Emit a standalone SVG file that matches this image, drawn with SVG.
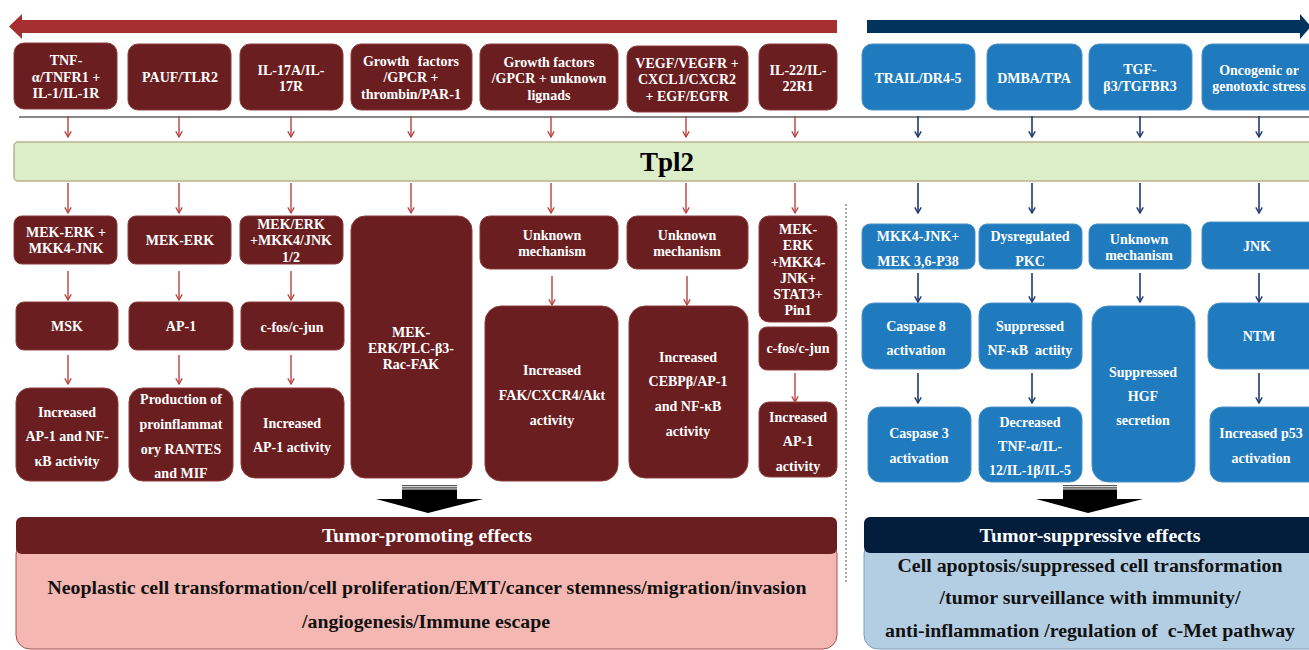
<svg xmlns="http://www.w3.org/2000/svg" width="1309" height="650" viewBox="0 0 1309 650">
<defs>
<style>
.rn{fill:#6B1E1F;stroke:#8E3B3B;stroke-width:1}
.bn{fill:#1F7BBE;stroke:#4A93C9;stroke-width:1}
.t{font-family:"Liberation Serif","Times New Roman",Times,serif;font-weight:bold;font-size:14px;fill:#FFFFFF;text-anchor:middle}
.h{font-family:"Liberation Serif","Times New Roman",Times,serif;font-weight:bold;font-size:19px;fill:#FFFFFF;text-anchor:middle}
.k{font-family:"Liberation Serif","Times New Roman",Times,serif;font-weight:bold;font-size:18px;fill:#111111;text-anchor:middle}
.rc{stroke:#B8403D;stroke-width:1.4;fill:none;marker-end:url(#ar)}
.bc{stroke:#1F3A6E;stroke-width:1.6;fill:none;marker-end:url(#ab)}
</style>
<marker id="ar" viewBox="0 0 10 10" refX="9" refY="5" markerWidth="8" markerHeight="8" markerUnits="userSpaceOnUse" orient="auto">
<path d="M2,1 L9,5 L2,9" fill="none" stroke="#B8403D" stroke-width="1.6"/>
</marker>
<marker id="ab" viewBox="0 0 10 10" refX="9" refY="5" markerWidth="8" markerHeight="8" markerUnits="userSpaceOnUse" orient="auto">
<path d="M2,1 L9,5 L2,9" fill="none" stroke="#1F3A6E" stroke-width="1.8"/>
</marker>
</defs>
<rect width="1309" height="650" fill="#FFFFFF"/>

<g id="arrow-promote">
<polygon points="9,26.5 22,14 22,20 837,20 837,33 22,33 22,39" fill="#A5302F"/>
</g>
<g id="arrow-suppress">
<polygon points="867,20 1300,20 1300,14 1311,26.5 1300,39 1300,33 867,33" fill="#00345C"/>
</g>

<line x1="19" y1="117" x2="1309" y2="117" stroke="#888888" stroke-width="2"/>
<line x1="846" y1="204" x2="846" y2="582" stroke="#555555" stroke-width="1" stroke-dasharray="2,2"/>

<g id="tpl2">
<rect x="14" y="142" width="1310" height="39" rx="4" fill="#DCEEC8" stroke="#B9B290" stroke-width="1.5"/>
<text x="667" y="171" font-family="Liberation Serif, Times New Roman, Times, serif" font-weight="bold" font-size="27" fill="#000000" text-anchor="middle">Tpl2</text>
</g>

<g id="n-tnf"><rect class="rn" x="14" y="43" width="103" height="66" rx="10"/>
<text class="t" x="66" y="65">TNF-</text><text class="t" x="66" y="82">α/TNFR1 +</text><text class="t" x="66" y="98">IL-1/IL-1R</text></g>
<g id="n-pauf"><rect class="rn" x="128" y="44" width="103" height="66" rx="10"/>
<text class="t" x="180" y="82">PAUF/TLR2</text></g>
<g id="n-il17"><rect class="rn" x="240" y="44" width="103" height="66" rx="10"/>
<text class="t" x="291" y="75">IL-17A/IL-</text><text class="t" x="291" y="91">17R</text></g>
<g id="n-gf1"><rect class="rn" x="351" y="44" width="121" height="66" rx="10"/>
<text class="t" x="411" y="66" word-spacing="5">Growth factors</text><text class="t" x="411" y="82">/GPCR +</text><text class="t" x="411" y="99">thrombin/PAR-1</text></g>
<g id="n-gf2"><rect class="rn" x="480" y="44" width="138" height="66" rx="10"/>
<text class="t" x="549" y="67">Growth factors</text><text class="t" x="549" y="83">/GPCR + unknown</text><text class="t" x="549" y="100">lignads</text></g>
<g id="n-vegf"><rect class="rn" x="627" y="46" width="121" height="66" rx="10"/>
<text class="t" x="687" y="68">VEGF/VEGFR +</text><text class="t" x="687" y="84">CXCL1/CXCR2</text><text class="t" x="687" y="101">+ EGF/EGFR</text></g>
<g id="n-il22"><rect class="rn" x="759" y="44" width="78" height="66" rx="10"/>
<text class="t" x="798" y="75">IL-22/IL-</text><text class="t" x="798" y="91">22R1</text></g>

<g id="n-trail"><rect class="bn" x="862" y="44" width="113" height="66" rx="10"/>
<text class="t" x="918" y="83">TRAIL/DR4-5</text></g>
<g id="n-dmba"><rect class="bn" x="987" y="44" width="95" height="66" rx="10"/>
<text class="t" x="1034" y="83">DMBA/TPA</text></g>
<g id="n-tgf"><rect class="bn" x="1089" y="44" width="103" height="66" rx="10"/>
<text class="t" x="1140" y="74">TGF-</text><text class="t" x="1140" y="91">β3/TGFBR3</text></g>
<g id="n-onco"><rect class="bn" x="1202" y="44" width="120" height="66" rx="10"/>
<text class="t" x="1259" y="75">Oncogenic or</text><text class="t" x="1259" y="91">genotoxic stress</text></g>

<g id="a1"><rect class="rn" x="14" y="216" width="103" height="48" rx="8"/>
<text class="t" x="66" y="237">MEK-ERK +</text><text class="t" x="66" y="253">MKK4-JNK</text></g>
<g id="a2"><rect class="rn" x="128" y="216" width="103" height="48" rx="8"/>
<text class="t" x="180" y="245">MEK-ERK</text></g>
<g id="a3"><rect class="rn" x="240" y="216" width="103" height="48" rx="8"/>
<text class="t" x="291" y="229">MEK/ERK</text><text class="t" x="291" y="245">+MKK4/JNK</text><text class="t" x="291" y="262">1/2</text></g>
<g id="a4"><rect class="rn" x="351" y="216" width="121" height="262" rx="14"/>
<text class="t" x="411" y="337">MEK-</text><text class="t" x="411" y="353">ERK/PLC-β3-</text><text class="t" x="411" y="369">Rac-FAK</text></g>
<g id="a5"><rect class="rn" x="480" y="216" width="138" height="53" rx="10"/>
<text class="t" x="552" y="240">Unknown</text><text class="t" x="552" y="256">mechanism</text></g>
<g id="a6"><rect class="rn" x="627" y="216" width="121" height="53" rx="10"/>
<text class="t" x="687" y="240">Unknown</text><text class="t" x="687" y="256">mechanism</text></g>
<g id="a7"><rect class="rn" x="759" y="216" width="78" height="106" rx="10"/>
<text class="t" x="798" y="234">MEK-</text><text class="t" x="798" y="250">ERK</text><text class="t" x="798" y="267">+MKK4-</text><text class="t" x="798" y="283">JNK+</text><text class="t" x="798" y="299">STAT3+</text><text class="t" x="798" y="315">Pin1</text></g>

<g id="b1"><rect class="rn" x="16" y="302" width="102" height="48" rx="8"/>
<text class="t" x="67" y="331">MSK</text></g>
<g id="b2"><rect class="rn" x="129" y="302" width="104" height="48" rx="8"/>
<text class="t" x="181" y="331">AP-1</text></g>
<g id="b3"><rect class="rn" x="241" y="302" width="103" height="48" rx="8"/>
<text class="t" x="292" y="332">c-fos/c-jun</text></g>
<g id="b5"><rect class="rn" x="485" y="306" width="133" height="175" rx="16"/>
<text class="t" x="552" y="375">Increased</text><text class="t" x="552" y="400">FAK/CXCR4/Akt</text><text class="t" x="552" y="425">activity</text></g>
<g id="b6"><rect class="rn" x="629" y="306" width="119" height="172" rx="16"/>
<text class="t" x="688" y="362">Increased</text><text class="t" x="688" y="386">CEBPβ/AP-1</text><text class="t" x="688" y="411">and NF-κB</text><text class="t" x="688" y="436">activity</text></g>
<g id="b7"><rect class="rn" x="759" y="327" width="78" height="43" rx="8"/>
<text class="t" x="798" y="353">c-fos/c-jun</text></g>

<g id="c1"><rect class="rn" x="16" y="388" width="102" height="93" rx="14"/>
<text class="t" x="67" y="417">Increased</text><text class="t" x="67" y="441">AP-1 and NF-</text><text class="t" x="67" y="466">κB activity</text></g>
<g id="c2"><rect class="rn" x="129" y="388" width="104" height="93" rx="14"/>
<text class="t" x="181" y="404">Production of</text><text class="t" x="181" y="429">proinflammat</text><text class="t" x="181" y="454">ory RANTES</text><text class="t" x="181" y="478">and MIF</text></g>
<g id="c3"><rect class="rn" x="241" y="388" width="103" height="90" rx="14"/>
<text class="t" x="292" y="428">Increased</text><text class="t" x="292" y="452">AP-1 activity</text></g>
<g id="c7"><rect class="rn" x="759" y="402" width="78" height="75" rx="10"/>
<text class="t" x="798" y="422">Increased</text><text class="t" x="798" y="446">AP-1</text><text class="t" x="798" y="471">activity</text></g>

<g id="d1"><rect class="bn" x="862" y="224" width="113" height="45" rx="8"/>
<text class="t" x="918" y="241">MKK4-JNK+</text><text class="t" x="918" y="266">MEK 3,6-P38</text></g>
<g id="d2"><rect class="bn" x="979" y="224" width="103" height="45" rx="8"/>
<text class="t" x="1030" y="241">Dysregulated</text><text class="t" x="1030" y="266">PKC</text></g>
<g id="d3"><rect class="bn" x="1089" y="224" width="102" height="45" rx="8"/>
<text class="t" x="1139" y="244">Unknown</text><text class="t" x="1139" y="260">mechanism</text></g>
<g id="d4"><rect class="bn" x="1202" y="222" width="120" height="47" rx="8"/>
<text class="t" x="1257" y="251">JNK</text></g>

<g id="e1"><rect class="bn" x="862" y="303" width="109" height="66" rx="12"/>
<text class="t" x="916" y="331">Caspase 8</text><text class="t" x="916" y="355">activation</text></g>
<g id="e2"><rect class="bn" x="979" y="303" width="103" height="66" rx="12"/>
<text class="t" x="1030" y="331">Suppressed</text><text class="t" x="1030" y="355" xml:space="preserve">NF-κB  actiity</text></g>
<g id="e3"><rect class="bn" x="1092" y="306" width="103" height="176" rx="16"/>
<text class="t" x="1143" y="377">Suppressed</text><text class="t" x="1143" y="401">HGF</text><text class="t" x="1143" y="425">secretion</text></g>
<g id="e4"><rect class="bn" x="1208" y="303" width="114" height="66" rx="12"/>
<text class="t" x="1259" y="341">NTM</text></g>

<g id="f1"><rect class="bn" x="868" y="407" width="103" height="75" rx="12"/>
<text class="t" x="919" y="438">Caspase 3</text><text class="t" x="919" y="463">activation</text></g>
<g id="f2"><rect class="bn" x="979" y="407" width="103" height="75" rx="12"/>
<text class="t" x="1030" y="427">Decreased</text><text class="t" x="1030" y="451">TNF-α/IL-</text><text class="t" x="1030" y="475">12/IL-1β/IL-5</text></g>
<g id="f4"><rect class="bn" x="1210" y="407" width="112" height="75" rx="12"/>
<text class="t" x="1261" y="438">Increased p53</text><text class="t" x="1261" y="463">activation</text></g>

<g id="connectors">
<line class="rc" x1="68" y1="116" x2="68" y2="137"/>
<line class="rc" x1="179" y1="116" x2="179" y2="137"/>
<line class="rc" x1="291" y1="116" x2="291" y2="137"/>
<line class="rc" x1="411" y1="116" x2="411" y2="137"/>
<line class="rc" x1="551" y1="116" x2="551" y2="137"/>
<line class="rc" x1="686" y1="116" x2="686" y2="137"/>
<line class="rc" x1="795" y1="116" x2="795" y2="137"/>
<line class="rc" x1="68" y1="183" x2="68" y2="213"/>
<line class="rc" x1="179" y1="183" x2="179" y2="213"/>
<line class="rc" x1="291" y1="183" x2="291" y2="213"/>
<line class="rc" x1="411" y1="183" x2="411" y2="213"/>
<line class="rc" x1="551" y1="183" x2="551" y2="213"/>
<line class="rc" x1="686" y1="183" x2="686" y2="213"/>
<line class="rc" x1="795" y1="183" x2="795" y2="213"/>
<line class="rc" x1="68" y1="271" x2="68" y2="300"/>
<line class="rc" x1="179" y1="271" x2="179" y2="300"/>
<line class="rc" x1="291" y1="271" x2="291" y2="300"/>
<line class="rc" x1="68" y1="355" x2="68" y2="384"/>
<line class="rc" x1="179" y1="355" x2="179" y2="384"/>
<line class="rc" x1="291" y1="355" x2="291" y2="384"/>
<line class="rc" x1="552" y1="276" x2="552" y2="305"/>
<line class="rc" x1="687" y1="276" x2="687" y2="305"/>
<line class="rc" x1="795" y1="373" x2="795" y2="402"/>
<line class="bc" x1="918" y1="116" x2="918" y2="137"/>
<line class="bc" x1="1032" y1="116" x2="1032" y2="137"/>
<line class="bc" x1="1140" y1="116" x2="1140" y2="137"/>
<line class="bc" x1="1259" y1="116" x2="1259" y2="137"/>
<line class="bc" x1="918" y1="183" x2="918" y2="213"/>
<line class="bc" x1="1032" y1="183" x2="1032" y2="213"/>
<line class="bc" x1="1140" y1="183" x2="1140" y2="213"/>
<line class="bc" x1="1259" y1="183" x2="1259" y2="213"/>
<line class="bc" x1="918" y1="273" x2="918" y2="302"/>
<line class="bc" x1="1032" y1="273" x2="1032" y2="302"/>
<line class="bc" x1="1140" y1="273" x2="1140" y2="302"/>
<line class="bc" x1="1259" y1="273" x2="1259" y2="302"/>
<line class="bc" x1="918" y1="373" x2="918" y2="403"/>
<line class="bc" x1="1032" y1="373" x2="1032" y2="403"/>
<line class="bc" x1="1259" y1="373" x2="1259" y2="403"/>
</g>

<g id="block-arrow-left">
<rect x="402" y="485" width="55" height="1.2" fill="#555555"/>
<rect x="402" y="487.3" width="55" height="1.2" fill="#333333"/>
<rect x="402" y="489.5" width="55" height="10" fill="#000000"/>
<polygon points="376,499 483,499 428,513" fill="#000000"/>
</g>
<g id="block-arrow-right">
<rect x="1063" y="485" width="54" height="1.2" fill="#555555"/>
<rect x="1063" y="487.3" width="54" height="1.2" fill="#333333"/>
<rect x="1063" y="489.5" width="54" height="10" fill="#000000"/>
<polygon points="1036,499 1143,499 1088,513" fill="#000000"/>
</g>

<g id="promote-effects">
<rect x="16" y="540" width="821" height="109" rx="14" fill="#F4B7B2" stroke="#A8504D" stroke-width="1"/>
<rect x="16" y="517" width="821" height="37" rx="6" fill="#6B1E1F"/>
<text class="h" x="427" y="542" textLength="210" lengthAdjust="spacingAndGlyphs">Tumor-promoting effects</text>
<text class="k" x="427" y="594" textLength="759" lengthAdjust="spacingAndGlyphs">Neoplastic cell transformation/cell proliferation/EMT/cancer stemness/migration/invasion</text>
<text class="k" x="426" y="628" textLength="248" lengthAdjust="spacingAndGlyphs">/angiogenesis/Immune escape</text>
</g>
<g id="suppress-effects">
<rect x="864" y="540" width="460" height="109" rx="14" fill="#B3CDE3" stroke="#7F9DBB" stroke-width="1"/>
<rect x="864" y="517" width="460" height="36" rx="6" fill="#031E3D"/>
<text class="h" x="1090" y="542" textLength="221" lengthAdjust="spacingAndGlyphs">Tumor-suppressive effects</text>
<text class="k" x="1090" y="572" textLength="385" lengthAdjust="spacingAndGlyphs">Cell apoptosis/suppressed cell transformation</text>
<text class="k" x="1090" y="604" textLength="301" lengthAdjust="spacingAndGlyphs">/tumor surveillance with immunity/</text>
<text class="k" x="1090" y="637" textLength="410" lengthAdjust="spacingAndGlyphs" xml:space="preserve">anti-inflammation /regulation of  c-Met pathway</text>
</g>
</svg>
